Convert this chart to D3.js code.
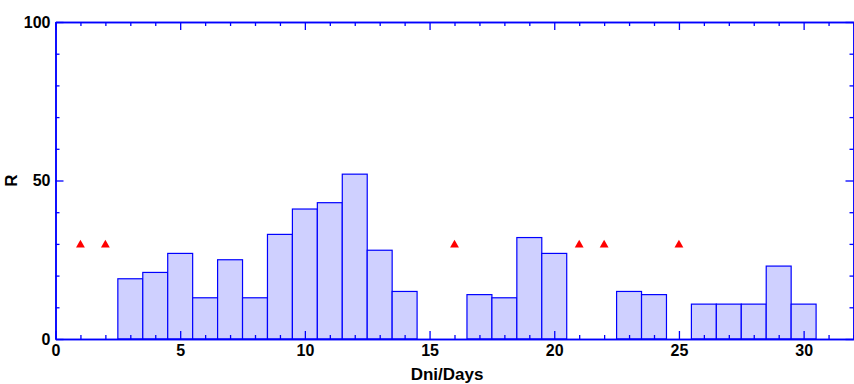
<!DOCTYPE html>
<html>
<head>
<meta charset="utf-8">
<script src="https://cdn.jsdelivr.net/npm/d3@7"></script>
<style>
  body { margin: 0; background: #fff; }
  svg text { font-family: "Liberation Sans", Arial, sans-serif; font-weight: bold; fill: #000; }
</style>
</head>
<body>
<div id="chart"></div>
<script>
// ---- donnees ----
const days   = [3, 4, 5, 6, 7, 8, 9, 10, 11, 12, 13, 14, 17, 18, 19, 20, 23, 24, 26, 27, 28, 29, 30];
const values = [19, 21, 27, 13, 25, 13, 33, 41, 43, 52, 28, 15, 14, 13, 32, 27, 15, 14, 11, 11, 11, 23, 11];
const markDays = [1, 2, 16, 21, 22, 25];
const markLevel = 30;
const xTicks = [0, 5, 10, 15, 20, 25, 30];
const yTicks = [0, 50, 100];

const width = 854, height = 384;
const x0 = 55.5, x1 = 853.5, yTop = 22, yBot = 339;

const svg = d3.select("#chart").append("svg")
  .attr("width", width).attr("height", height);

const x = d3.scaleLinear().domain([0, 32]).range([x0, x1]);
const y = d3.scaleLinear().domain([0, 100]).range([yBot, yTop]);

// barres
svg.selectAll("rect.bar")
  .data(days.map((d, i) => ({ day: d, v: values[i] })))
  .enter().append("rect")
  .attr("class", "bar")
  .attr("x", d => x(d.day - 0.5))
  .attr("width", d => x(d.day + 0.5) - x(d.day - 0.5))
  .attr("y", d => y(d.v))
  .attr("height", d => y(0) - y(d.v))
  .attr("fill", "#cfd0ff")
  .attr("stroke", "#0000ff")
  .attr("stroke-width", 1.2);

// triangles rouges
svg.selectAll("path.mark")
  .data(markDays)
  .enter().append("path")
  .attr("class", "mark")
  .attr("d", d3.symbol().type(d3.symbolTriangle).size(34))
  .attr("transform", d => `translate(${x(d)},${y(markLevel) + 1})`)
  .attr("fill", "#ff0000");

// axes (ticks vers l'interieur)
const blue = "#0000ff";
function styleAxis(g) {
  g.select(".domain").attr("stroke", blue).attr("stroke-width", 1.5);
  g.selectAll(".tick line").attr("stroke", blue).attr("stroke-width", 1.3);
}
const minorX = d3.range(0, 33, 1).filter(v => v % 5 !== 0);
const minorY = d3.range(0, 101, 10).filter(v => v % 50 !== 0);

// bas
svg.append("g").attr("transform", `translate(0,${yBot})`)
  .call(d3.axisBottom(x).tickValues(xTicks).tickSizeInner(-8).tickSizeOuter(0).tickPadding(6))
  .call(styleAxis)
  .call(g => g.selectAll("text").attr("font-size", 16).attr("fill", "#000"));
svg.append("g").attr("transform", `translate(0,${yBot})`)
  .call(d3.axisBottom(x).tickValues(minorX).tickSizeInner(-4).tickSizeOuter(0).tickFormat(""))
  .call(styleAxis);
// haut
svg.append("g").attr("transform", `translate(0,${yTop})`)
  .call(d3.axisTop(x).tickValues(xTicks).tickSizeInner(-8).tickSizeOuter(0).tickFormat(""))
  .call(styleAxis);
svg.append("g").attr("transform", `translate(0,${yTop})`)
  .call(d3.axisTop(x).tickValues(minorX).tickSizeInner(-4).tickSizeOuter(0).tickFormat(""))
  .call(styleAxis);
// gauche
svg.append("g").attr("transform", `translate(${x0},0)`)
  .call(d3.axisLeft(y).tickValues(yTicks).tickSizeInner(-8).tickSizeOuter(0).tickPadding(5))
  .call(styleAxis)
  .call(g => g.selectAll("text").attr("font-size", 16).attr("fill", "#000"));
svg.append("g").attr("transform", `translate(${x0},0)`)
  .call(d3.axisLeft(y).tickValues(minorY).tickSizeInner(-4).tickSizeOuter(0).tickFormat(""))
  .call(styleAxis);
// droite
svg.append("g").attr("transform", `translate(${x1},0)`)
  .call(d3.axisRight(y).tickValues(yTicks).tickSizeInner(-8).tickSizeOuter(0).tickFormat(""))
  .call(styleAxis);
svg.append("g").attr("transform", `translate(${x1},0)`)
  .call(d3.axisRight(y).tickValues(minorY).tickSizeInner(-4).tickSizeOuter(0).tickFormat(""))
  .call(styleAxis);

// titres d'axes
svg.append("text")
  .attr("x", 447).attr("y", 380)
  .attr("text-anchor", "middle").attr("font-size", 17)
  .text("Dni/Days");
svg.append("text")
  .attr("transform", `translate(16.5,${(yTop + yBot) / 2}) rotate(-90)`)
  .attr("text-anchor", "middle").attr("font-size", 17)
  .text("R");
</script>
</body>
</html>
